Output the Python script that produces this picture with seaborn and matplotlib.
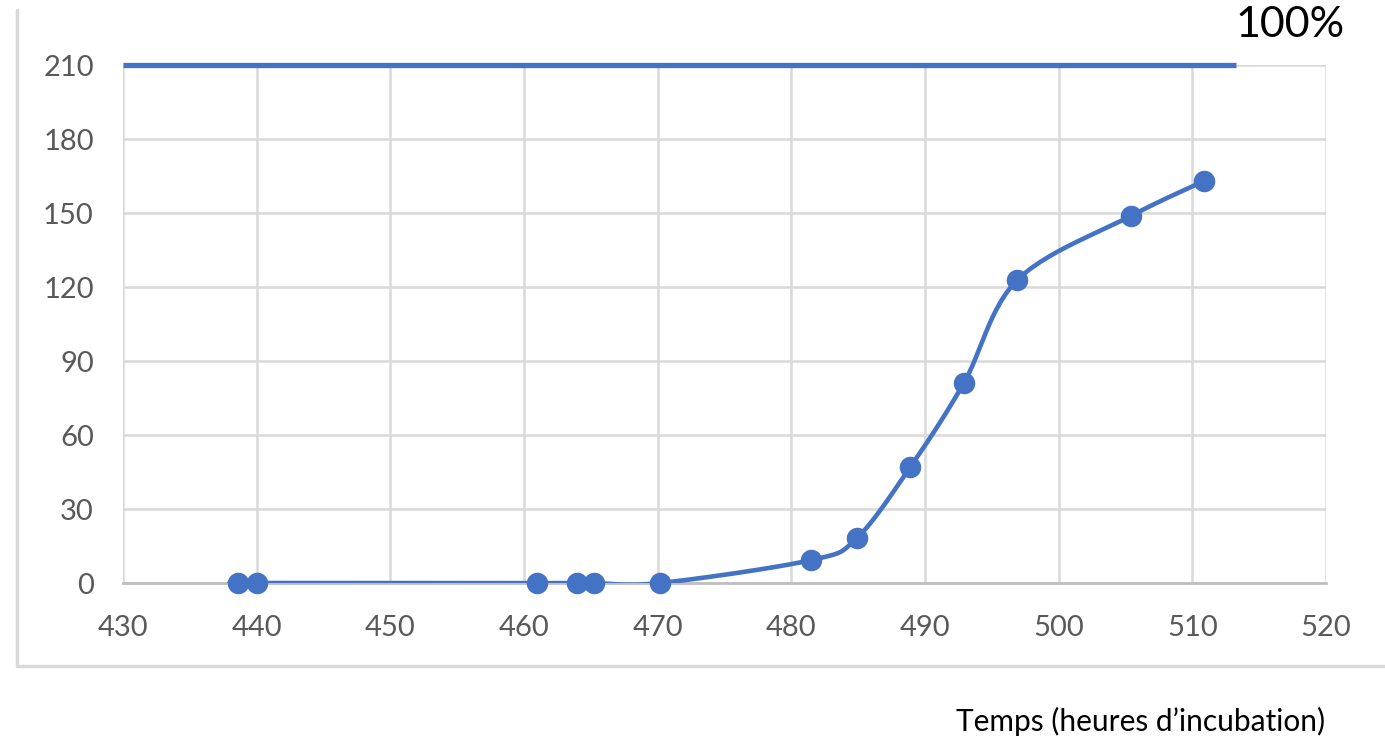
import numpy as np
import matplotlib
matplotlib.use("Agg")
import matplotlib.pyplot as plt
import seaborn as sns

# -----------------------------
# Data
# -----------------------------
hours = [438.6, 440.0, 461.0, 464.0, 465.2, 470.2, 481.5, 484.9, 488.9, 492.9, 496.9, 505.4, 510.9]
count = [0, 0, 0, 0, 0, 0, 9.3, 18.2, 47, 81, 122.8, 148.8, 163]
ref_level = 210          # 100% line
ref_span = [430, 513.3]
x_ticks = [430, 440, 450, 460, 470, 480, 490, 500, 510, 520]
y_ticks = [0, 30, 60, 90, 120, 150, 180, 210]

blue = "#4472C4"

sns.set_style("whitegrid")
plt.rcParams['font.family'] = ['Lato', 'DejaVu Sans']


def smooth_curve(xs, ys, steps=30):
    # Excel-like smoothed line: cubic Bezier with Catmull-Rom control points
    px, py = np.array(xs, float), np.array(ys, float)
    n = len(px)
    out_x, out_y = [], []
    for i in range(n - 1):
        i0, i3 = max(i - 1, 0), min(i + 2, n - 1)
        c1x = px[i] + (px[i + 1] - px[i0]) / 6
        c1y = py[i] + (py[i + 1] - py[i0]) / 6
        c2x = px[i + 1] - (px[i3] - px[i]) / 6
        c2y = py[i + 1] - (py[i3] - py[i]) / 6
        t = np.linspace(0, 1, steps)
        b0, b1, b2, b3 = (1 - t) ** 3, 3 * t * (1 - t) ** 2, 3 * t ** 2 * (1 - t), t ** 3
        out_x.extend(b0 * px[i] + b1 * c1x + b2 * c2x + b3 * px[i + 1])
        out_y.extend(b0 * py[i] + b1 * c1y + b2 * c2y + b3 * py[i + 1])
    return np.array(out_x), np.array(out_y)


fig = plt.figure(figsize=(13.85, 7.40), dpi=100)
ax = fig.add_axes([123 / 1385, 1 - 583 / 740, (1326 - 123) / 1385, (583 - 65) / 740])

cx, cy = smooth_curve(hours, count)
sns.lineplot(x=cx, y=cy, sort=False, color=blue, linewidth=3.3, ax=ax, zorder=3)
sns.scatterplot(x=hours, y=count, color=blue, s=240, edgecolor=blue, linewidth=0, ax=ax, zorder=4, clip_on=False)
ax.plot(ref_span, [ref_level, ref_level], color=blue, linewidth=3.8, solid_capstyle="butt", clip_on=False, zorder=5)

ax.set_xlim(430, 520)
ax.set_ylim(0, 210)
ax.set_xticks(x_ticks)
ax.set_yticks(y_ticks)
ax.grid(True, color="#D9D9D9", linewidth=1.8)
ax.tick_params(axis="both", length=0, labelsize=21, labelcolor="#595959")
ax.tick_params(axis="y", pad=21)
ax.tick_params(axis="x", pad=23)
for side in ["top", "right", "left"]:
    ax.spines[side].set_visible(False)
ax.spines["bottom"].set_color("#BFBFBF")
ax.spines["bottom"].set_linewidth(2)
ax.set_xlabel("")
ax.set_ylabel("")

# chart frame (left and bottom edges visible)
fig.add_artist(plt.Line2D([17 / 1385, 17 / 1385], [1 - 10 / 740, 1 - 666 / 740], color="#D9D9D9", linewidth=2.5))
fig.add_artist(plt.Line2D([17 / 1385, 1.0], [1 - 666 / 740, 1 - 666 / 740], color="#D9D9D9", linewidth=2.5))

fig.text(1290 / 1385, 1 - 25 / 740, "100%", fontsize=31, color="black", ha="center", va="center")
fig.text(1141 / 1385, 1 - 721 / 740, "Temps (heures d\u2019incubation)", fontsize=21.5, color="black",
         ha="center", va="center")

fig.savefig("out.png", dpi=100)
